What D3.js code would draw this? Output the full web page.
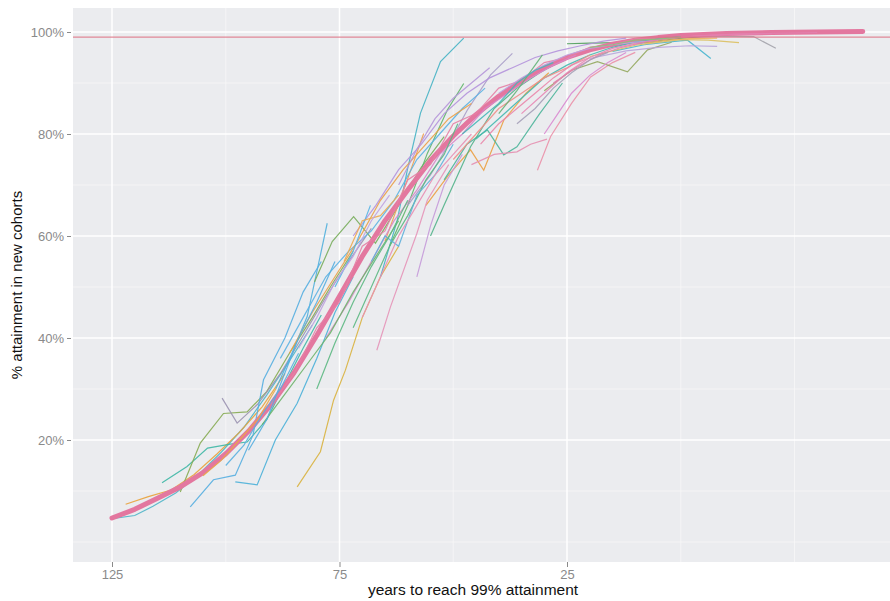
<!DOCTYPE html>
<html>
<head>
<meta charset="utf-8">
<script src="https://cdnjs.cloudflare.com/ajax/libs/d3/7.8.5/d3.min.js"></script>
<style>
  body { margin: 0; background: #fff; }
  svg { display: block; }
  text { font-family: "Liberation Sans", Arial, sans-serif; }
</style>
</head>
<body>
<svg id="chart" width="890" height="601"></svg>
<script>
// ticks
var xTicks = [125, 75, 25];
var xMinor = [100, 50, 0, -25];
var yTicks = [20, 40, 60, 80, 100];
var yMinor = [0, 10, 30, 50, 70, 90];
var targetPct = 99;

// fitted curve (thick pink)
var fitYears = [125, 120, 115, 110, 105, 100, 95, 90, 85, 80, 75, 70, 65, 60, 55, 50, 45, 40, 35, 30, 25, 20, 15, 10, 5, 0, -10, -20, -30, -40];
var fitPct = [4.7, 6.4, 8.6, 10.8, 13.6, 17.3, 21.7, 27.0, 33.2, 40.5, 48.2, 56.0, 63.0, 69.0, 74.8, 79.6, 83.8, 87.4, 90.4, 93.0, 95.0, 96.5, 97.6, 98.4, 98.9, 99.3, 99.7, 99.9, 100, 100.1];

// one list of [years to 99%, % attainment] per country
var cohortLines = [
  [[125,4.6],[120,5.2],[116,7.0],[111,9.6],[106,13.2],[101,17.6],[96,22.5],[91,28.8],[86,35.5],[81,42.5]],
  [[122,7.4],[117,8.9],[112,10.2],[107,13.2],[102,17.2],[97,21.5],[92,26.5],[87,33]],
  [[114,11.6],[108.5,14.8],[104,18.4],[99,19.2],[95.3,19.6],[91,24],[87,31],[83,38],[79,44.5]],
  [[110,9.8],[105.6,19.4],[100.5,25.2],[95.3,25.5],[91,29.5],[86,37],[81,44],[77,50],[72,57]],
  [[100.8,28.2],[97.5,23.3],[93,27],[88,33],[83,40.5],[78,48],[73,55],[68,61.5]],
  [[107.8,6.9],[102.7,12.2],[97.9,13.1],[94,21],[91.7,31.8],[87,40],[83,49],[79,55]],
  [[97.9,11.8],[93.1,11.2],[89.1,20],[84.3,27.2],[80,36],[76,45],[72,52]],
  [[84.3,10.8],[79.2,17.7],[76.3,27.8],[73.7,33.7],[70,44],[66,52],[62,58]],
  [[89,30],[85.8,36.3],[82.1,44.2],[77.7,62.5]],
  [[80.5,51],[76.6,58.9],[71.9,63.8],[67.1,58.6],[62,66],[57,73.5],[52,79.5]],
  [[66,52],[62.3,63.1],[60.1,72.9],[57.2,84.1],[52.8,94.2],[47.7,98.8]],
  [[64,58],[60,66],[55.7,76.2],[51.3,84.7],[47.7,89.9]],
  [[60,66],[55,72],[51,78],[46.9,84.7],[41.8,91.6],[37,95.8]],
  [[56,66],[51,72],[46.2,76.9],[43.3,72.9],[38.9,82.7],[34,88],[29,92]],
  [[52,71],[47,78],[42.5,80.8],[38.9,75.9],[36,77.5],[31,84],[26,90]],
  [[46,74],[41,76],[36,76.5],[33,78],[29.4,79]],
  [[31.5,72.9],[28.6,79.5],[24,86],[19.8,91.2],[15,94],[10,96]],
  [[65,59],[60.1,71],[56.5,80.1]],
  [[55,60],[52,66.1],[46.2,77.5],[41,85],[36,89],[31,92],[25,95]],
  [[30,88.5],[24,92.5],[18.3,94.2],[11.7,92.2],[7.3,96.5],[2,98]],
  [[15,96.2],[8,97.5],[3,98],[-1.5,98.4],[-6.6,94.8]],
  [[10,97.6],[0,98.8],[-8,99.2],[-16,99.1],[-20.9,96.8]],
  [[20,95.2],[10,97.4],[0,98.5],[-6,98.4],[-12.8,97.9]],
  [[25,97.7],[20,97.8],[13,97.9],[7,98],[0,98.8],[-5,99.2]],
  [[20,94.8],[12,96.3],[5,97],[-2,97.3],[-8,97.2]],
  [[90,27],[85,33],[80,42],[75,47],[70,58],[65,61],[60,71],[55,74],[50,82],[45,84],[40,89],[35,90.5],[30,94],[25,95],[20,97],[15,97.5],[10,98.7],[5,99]],
  [[78,40],[73,47],[68,55],[63,63],[58,69],[53,76],[48,80],[43,85],[38,88],[33,91],[28,93.5],[23,95.5]],
  [[72,60],[67,66],[62,73],[57,78],[52,84],[47,88],[42,91],[37,93],[32,95],[27,96.3],[22,97.3],[17,98.2],[12,98.8]],
  [[88,36],[83,44],[78,52],[73,57],[68,61],[63,67],[58,75],[53,80],[48,85],[43,89]],
  [[92,23],[87,29],[82,35],[77,41],[72,49],[67,56],[62,63]],
  [[86,37],[81,45],[76,52],[71,59],[66,67],[61,73],[56,78],[51,83],[46,86]],
  [[45,79],[40,83],[35,87],[30,91],[25,93.5],[20,95.5],[15,97],[10,98],[5,98.6],[0,99.1]],
  [[35,84],[30,88],[25,92],[20,95],[15,96.8],[10,97.8],[5,98.5],[0,99],[-5,99.3],[-10,99.5],[-15,99.6],[-20,99.7]],
  [[50,75],[45,80],[40,85],[35,88],[30,91],[25,93],[20,95.5]],
  [[40,88],[35,91],[30,93.5],[25,95.5],[20,96.8],[15,97.5],[10,98],[5,98.3]],
  [[28,90],[23,93],[18,95.5],[13,97],[8,98],[3,98.7],[-2,99.1],[-7,99.4],[-12,99.6],[-17,99.7],[-25,99.8],[-30,99.9]],
  [[20,97],[15,97.5],[10,98.4],[5,98.6],[0,99]],
  [[8,97.8],[3,98.4],[-2,98.7],[-8,98.8]],
  [[66.8,37.6],[63.8,46.1],[58,60.5],[55.7,67],[51,74]],
  [[58,52],[55,62],[52,70],[48,76]],
  [[76,50],[72,57],[68.2,66]],
  [[74,55],[70,63],[66,64],[62,68]],
  [[72,42],[68,50],[64,58],[60,64],[56,71],[52,76],[49,82]],
  [[68,55],[65,60],[62,58],[58,68],[54,72],[50,78]],
  [[40,84],[36,88.5],[30.4,95.5]],
  [[95,18],[91,24],[87.5,32],[84,40],[80,47],[76,55]],
  [[80,30],[76,39],[72,47],[68,54],[64,60],[60,67]],
  [[70,44],[66,52],[62,60],[58,66],[54,72],[50,76],[46,80]],
  [[62,70],[58,77],[54,83],[50,87],[46,90],[42,93]],
  [[48,80],[44,83],[40,86],[36,90],[32,92.5],[28,94]],
  [[44,78],[40,82],[36,85],[32,88],[28,91],[24,93.5],[20,95]],
  [[36,82],[32,85],[28,89],[24,92],[20,94.5],[16,96]],
  [[30,80],[27,84],[24,88],[20,91.5],[16,94],[12,96]],
  [[100,15],[96,19],[92,25],[88,30],[84,37]],
  [[105,13],[101,16],[97,20],[93,24],[89,30]],
  [[84,38],[80,44],[76,51],[72,56],[68,63],[64,68]]
];

var lineColors = [
  "#4fb5c8", "#e9a23b", "#3db7a5", "#86ab52", "#9a92b0", "#55aee0", "#4ab0d8", "#d9b33f",
  "#52b0dd", "#78ad5c", "#45b3c4", "#5fb56a", "#a89cc8", "#eba041", "#4cb59a", "#e58fb0",
  "#eb90a8", "#f0a050", "#52b38a", "#93a85e", "#47b5cf", "#a3a3ab", "#dcc060", "#4f9e5a",
  "#b8a4dc", "#e67fa5", "#d886c8", "#b492dc", "#5cb2e3", "#6eb46c", "#eaa048", "#45b8b0",
  "#e887b5", "#ee8f88", "#bda3e0", "#e27fae", "#8fc17a", "#ecb060", "#e693b8", "#c59ad9",
  "#56b4e6", "#ecaa50", "#5cb882", "#5fb0dc", "#66b278", "#55aee0", "#5cb882", "#e88fb4",
  "#b596d9", "#45b6b8", "#ea86aa", "#a5a0b8", "#d98ad0", "#5ab0e0", "#e9a847", "#c0a2e0"
];

var svg = d3.select("#chart");
var panel = {left: 73, top: 8, right: 902, bottom: 562};

var x = d3.scaleLinear().domain([125, 25]).range([112, 567]);
var y = d3.scaleLinear().domain([100, 20]).range([32, 440]);

svg.append("defs").append("clipPath").attr("id", "clip")
  .append("rect")
  .attr("x", panel.left).attr("y", panel.top)
  .attr("width", panel.right - panel.left).attr("height", panel.bottom - panel.top);

svg.append("rect")
  .attr("x", panel.left).attr("y", panel.top)
  .attr("width", panel.right - panel.left).attr("height", panel.bottom - panel.top)
  .attr("fill", "#ebecef");

var grid = svg.append("g").attr("clip-path", "url(#clip)");

grid.selectAll(".ymin").data(yMinor).enter().append("line")
  .attr("x1", panel.left).attr("x2", panel.right)
  .attr("y1", function(d) { return y(d); }).attr("y2", function(d) { return y(d); })
  .attr("stroke", "#f7f7f8").attr("stroke-width", 0.8);
grid.selectAll(".xmin").data(xMinor).enter().append("line")
  .attr("y1", panel.top).attr("y2", panel.bottom)
  .attr("x1", function(d) { return x(d); }).attr("x2", function(d) { return x(d); })
  .attr("stroke", "#f7f7f8").attr("stroke-width", 0.8);
grid.selectAll(".ymaj").data(yTicks).enter().append("line")
  .attr("x1", panel.left).attr("x2", panel.right)
  .attr("y1", function(d) { return y(d); }).attr("y2", function(d) { return y(d); })
  .attr("stroke", "#ffffff").attr("stroke-width", 1.5);
grid.selectAll(".xmaj").data(xTicks).enter().append("line")
  .attr("y1", panel.top).attr("y2", panel.bottom)
  .attr("x1", function(d) { return x(d); }).attr("x2", function(d) { return x(d); })
  .attr("stroke", "#ffffff").attr("stroke-width", 1.5);

var line = d3.line()
  .x(function(d) { return x(d[0]); })
  .y(function(d) { return y(d[1]); });

var plot = svg.append("g").attr("clip-path", "url(#clip)");

function drawCohorts(list, offset) {
  plot.selectAll(".cohort" + offset).data(list).enter().append("path")
    .attr("d", line)
    .attr("fill", "none")
    .attr("stroke", function(d, i) { return lineColors[(i + offset) % lineColors.length]; })
    .attr("stroke-width", 1.2)
    .attr("stroke-opacity", 0.9);
}

// first half of the countries, then the fit, then the rest on top of it
drawCohorts(cohortLines.slice(0, 25), 0);

plot.append("path")
  .datum(fitYears.map(function(v, i) { return [v, fitPct[i]]; }))
  .attr("d", line)
  .attr("fill", "none")
  .attr("stroke", "#e3779f")
  .attr("stroke-width", 5)
  .attr("stroke-linecap", "round")
  .attr("stroke-linejoin", "round");

drawCohorts(cohortLines.slice(25), 25);

plot.append("line")
  .attr("x1", panel.left).attr("x2", panel.right)
  .attr("y1", y(targetPct)).attr("y2", y(targetPct))
  .attr("stroke", "#de6f82").attr("stroke-width", 1);

// axes
var yAxis = svg.append("g")
  .attr("transform", "translate(" + (panel.left - 2) + ",0)")
  .call(d3.axisLeft(y).tickValues(yTicks).tickFormat(function(d) { return d + "%"; }).tickSize(4).tickPadding(3));
var xAxis = svg.append("g")
  .attr("transform", "translate(0," + panel.bottom + ")")
  .call(d3.axisBottom(x).tickValues(xTicks).tickSize(5).tickPadding(3));

[xAxis, yAxis].forEach(function(a) {
  a.select(".domain").remove();
  a.selectAll(".tick line").attr("stroke", "#8a8a8a");
  a.selectAll(".tick text").attr("fill", "#8a8a8a").style("font-size", "13px");
});

svg.append("text")
  .attr("x", 473).attr("y", 595)
  .attr("text-anchor", "middle")
  .style("font-size", "15.5px")
  .attr("fill", "#111")
  .text("years to reach 99% attainment");

svg.append("text")
  .attr("transform", "translate(22,285) rotate(-90)")
  .attr("text-anchor", "middle")
  .style("font-size", "15px")
  .attr("fill", "#111")
  .text("% attainment in new cohorts");
</script>
</body>
</html>
